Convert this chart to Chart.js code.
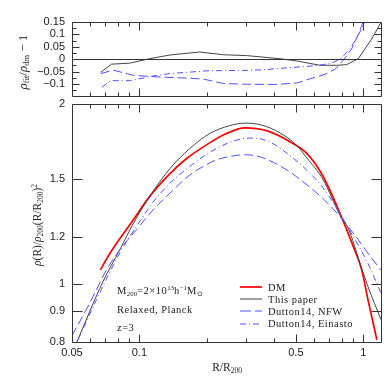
<!DOCTYPE html>
<html>
<head>
<meta charset="utf-8">
<script src="https://cdn.jsdelivr.net/npm/chart.js@4.4.1/dist/chart.umd.min.js"></script>
<style>
  html, body { margin: 0; padding: 0; background: #fff; }
  #wrap { position: relative; width: 390px; height: 390px; overflow: hidden;
          font-family: "Liberation Serif", serif; color: #222; }
  canvas { position: absolute; left: 0; }
  #topChart { top: 0; }
  #botChart { top: 90px; }
  .lbl { position: absolute; white-space: nowrap; line-height: 1; }
  .rot { transform: translate(-50%, -50%) rotate(-90deg); }
  .ctr { transform: translate(-50%, -50%); }
  .note { letter-spacing: 0.5px; font-size: 10.5px; }
  sub { font-size: 65%; vertical-align: -0.3em; line-height: 0; letter-spacing: 0; }
  sup { font-size: 65%; vertical-align: 0.55em; line-height: 0; letter-spacing: 0; }
  .leg { position: absolute; left: 240px; font-size: 10.5px; letter-spacing: 0.5px; }
  .leg div { height: 12.2px; display: flex; align-items: center; }
  .leg svg { margin-right: 6px; }
</style>
</head>
<body>
<div id="wrap">
  <canvas id="topChart" width="390" height="110"></canvas>
  <canvas id="botChart" width="390" height="300"></canvas>

  <div class="lbl rot" style="left:22px; top:62px; font-size:13px;"><i>ρ</i><sub>fit</sub>/<i>ρ</i><sub>dm</sub> − 1</div>
  <div class="lbl rot" style="left:38px; top:225px; font-size:11.5px;"><i>ρ</i>(R)/<i>ρ</i><sub>200</sub>(R/R<sub>200</sub>)<sup>2</sup></div>
  <div class="lbl ctr" style="left:227px; top:368px; font-size:11.5px;">R/R<sub>200</sub></div>

  <div class="lbl note" style="left:117px; top:286px;">M<sub>200</sub>=2×10<sup>13</sup>h<sup>−1</sup>M<sub>⊙</sub></div>
  <div class="lbl note" style="left:117px; top:305px;">Relaxed, Planck</div>
  <div class="lbl note" style="left:117px; top:323px;">z=3</div>

  <div class="leg" style="top:281px;">
    <div><svg width="22" height="4"><line x1="0" y1="2" x2="22" y2="2" stroke="#ff0000" stroke-width="1.7"/></svg>DM</div>
    <div><svg width="22" height="4"><line x1="0" y1="2" x2="22" y2="2" stroke="#444" stroke-width="1"/></svg>This paper</div>
    <div><svg width="22" height="4"><line x1="0" y1="2" x2="22" y2="2" stroke="#5050ff" stroke-width="1" stroke-dasharray="11,4"/></svg>Dutton14, NFW</div>
    <div><svg width="22" height="4"><line x1="0" y1="2" x2="22" y2="2" stroke="#5050ff" stroke-width="1" stroke-dasharray="6,3,1,3"/></svg>Dutton14, Einasto</div>
  </div>
</div>

<script>
// ---- bottom panel: rho(R) / rho200 (R/R200)^2 ----
var dmR  = [0.067, 0.074, 0.094, 0.111, 0.137, 0.162, 0.2, 0.241, 0.296, 0.37, 0.47, 0.558, 0.662, 0.786, 0.902, 0.984, 1.05, 1.15];
var dmV  = [1.056, 1.127, 1.281, 1.40, 1.53, 1.62, 1.71, 1.78, 1.825, 1.805, 1.73, 1.655, 1.513, 1.314, 1.156, 1.056, 0.941, 0.807];

var fitR = [0.0526, 0.06, 0.0688, 0.0817, 0.0937, 0.111, 0.137, 0.168, 0.206, 0.253, 0.296, 0.35, 0.424, 0.5, 0.56, 0.662, 0.786, 0.86, 0.966, 1.05, 1.2];
var fitV = [0.80, 0.90, 1.01, 1.141, 1.26, 1.40, 1.56, 1.685, 1.785, 1.84, 1.858, 1.845, 1.79, 1.71, 1.625, 1.494, 1.305, 1.235, 1.085, 0.99, 0.872];

var nfwR = [0.05, 0.06, 0.0713, 0.083, 0.097, 0.115, 0.137, 0.168, 0.193, 0.221, 0.253, 0.296, 0.35, 0.4, 0.47, 0.56, 0.66, 0.79, 0.95, 1.08, 1.2];
var nfwV = [0.82, 0.929, 1.056, 1.15, 1.232, 1.33, 1.419, 1.522, 1.573, 1.613, 1.634, 1.645, 1.63, 1.595, 1.54, 1.465, 1.39, 1.295, 1.186, 1.11, 1.056];

var einR = [0.0532, 0.0643, 0.0817, 0.097, 0.115, 0.137, 0.168, 0.193, 0.221, 0.253, 0.306, 0.35, 0.403, 0.47, 0.56, 0.66, 0.76, 0.88, 1.04, 1.2];
var einV = [0.807, 0.941, 1.127, 1.248, 1.37, 1.475, 1.573, 1.634, 1.685, 1.725, 1.754, 1.748, 1.71, 1.64, 1.55, 1.45, 1.34, 1.22, 1.09, 0.966];

// ---- top panel: rho_fit / rho_dm - 1 ----
var resFitR = [0.0672, 0.075, 0.0905, 0.111, 0.137, 0.186, 0.237, 0.301, 0.424, 0.504, 0.64, 0.76, 0.843, 0.95, 1.089, 1.21];
var resFitV = [-0.053, -0.02, -0.016, 0.002, 0.017, 0.029, 0.018, 0.0146, 0.002, -0.007, -0.0245, -0.0245, -0.022, 0.002, 0.081, 0.154];

var resNfwR = [0.0672, 0.0764, 0.094, 0.119, 0.168, 0.193, 0.237, 0.3, 0.4, 0.454, 0.512, 0.56, 0.67, 0.75, 0.814, 0.886, 0.95, 1.0];
var resNfwV = [-0.058, -0.044, -0.065, -0.071, -0.077, -0.08, -0.098, -0.101, -0.102, -0.099, -0.095, -0.083, -0.062, -0.04, -0.005, 0.04, 0.1, 0.152];

var resEinR = [0.068, 0.0745, 0.0905, 0.115, 0.137, 0.168, 0.2, 0.237, 0.3, 0.35, 0.47, 0.56, 0.662, 0.74, 0.8, 0.87, 0.94, 1.02];
var resEinV = [-0.113, -0.0865, -0.0865, -0.068, -0.058, -0.052, -0.047, -0.046, -0.045, -0.043, -0.034, -0.029, -0.022, -0.012, 0.005, 0.04, 0.09, 0.15];

// ---- axes ----
var xMin = 0.05, xMax = 1.2;
var xLabels = [0.05, 0.1, 0.5, 1];
var xMajor = [0.1, 0.5, 1];
var xMinor = [0.06, 0.07, 0.08, 0.09, 0.2, 0.3, 0.4, 0.6, 0.7, 0.8, 0.9];
var topLabels = [-0.1, -0.05, 0, 0.05, 0.1, 0.15];
var topMinor = [-0.125, -0.075, -0.025, 0.025, 0.075, 0.125];
var botLabels = [0.8, 0.9, 1, 1.2, 1.5, 2];

var red = '#ff0000', grey = '#444', blue = '#5050ff';

function pts(rs, vs) {
  return rs.map(function (r, i) { return { x: r, y: vs[i] }; });
}

function fmt(v) {
  return v < 0 ? '\u2212' + Math.abs(v) : String(v);
}

// inward tick marks + frame, placed with the chart's own scales
function framePlugin(cfg) {
  return {
    id: 'frame',
    afterDatasetsDraw: function (chart) {
      var ctx = chart.ctx, a = chart.chartArea, x = chart.scales.x, y = chart.scales.y;
      var L = Math.round(a.left) + 0.5, R = Math.round(a.right) + 0.5;
      var T = Math.round(a.top) + 0.5, B = Math.round(a.bottom) + 0.5;
      ctx.save();
      ctx.strokeStyle = '#333';
      ctx.lineWidth = 1;
      ctx.beginPath();
      [[xMajor, 8], [xMinor, 4]].forEach(function (set) {
        set[0].forEach(function (v) {
          var px = Math.round(x.getPixelForValue(v)) + 0.5;
          ctx.moveTo(px, T); ctx.lineTo(px, T + set[1]);
          ctx.moveTo(px, B); ctx.lineTo(px, B - set[1]);
        });
      });
      [[cfg.yMajor, cfg.yLen[0]], [cfg.yMinor, cfg.yLen[1]]].forEach(function (set) {
        set[0].forEach(function (v) {
          var py = Math.round(y.getPixelForValue(v)) + 0.5;
          ctx.moveTo(L, py); ctx.lineTo(L + set[1], py);
          ctx.moveTo(R, py); ctx.lineTo(R - set[1], py);
        });
      });
      if (cfg.zero) {
        var pz = Math.round(y.getPixelForValue(0)) + 0.5;
        ctx.moveTo(L, pz); ctx.lineTo(R, pz);
      }
      ctx.rect(L, T, R - L, B - T);
      ctx.stroke();
      ctx.restore();
    }
  };
}

var tickFont = { family: 'Liberation Sans', size: 11 };

// top panel
new Chart(document.getElementById('topChart').getContext('2d'), {
  type: 'line',
  data: {
    datasets: [
      { data: pts(resEinR, resEinV), borderColor: blue, borderWidth: 1, borderDash: [6, 3, 1, 3] },
      { data: pts(resNfwR, resNfwV), borderColor: blue, borderWidth: 1, borderDash: [9, 4] },
      { data: pts(resFitR, resFitV), borderColor: grey, borderWidth: 1 }
    ]
  },
  options: {
    responsive: false,
    animation: false,
    devicePixelRatio: 1,
    layout: { padding: { left: 0, right: 9, top: 22, bottom: 6 } },
    elements: { point: { radius: 0 }, line: { tension: 0, fill: false } },
    datasets: { line: { clip: 0 } },
    plugins: { legend: { display: false }, tooltip: { enabled: false } },
    scales: {
      x: { type: 'logarithmic', min: xMin, max: xMax, display: false },
      y: {
        type: 'linear', min: -0.15, max: 0.15,
        grid: { display: false, drawTicks: false },
        border: { display: false },
        afterBuildTicks: function (s) { s.ticks = topLabels.map(function (v) { return { value: v }; }); },
        afterFit: function (s) { s.width = 72; },
        ticks: { font: tickFont, color: '#222', padding: 7, autoSkip: false, callback: fmt }
      }
    }
  },
  plugins: [framePlugin({ yMajor: topLabels, yMinor: topMinor, yLen: [7, 4], zero: true })]
});

// bottom panel
new Chart(document.getElementById('botChart').getContext('2d'), {
  type: 'line',
  data: {
    datasets: [
      { data: pts(einR, einV), borderColor: blue, borderWidth: 1, borderDash: [6, 3, 1, 3] },
      { data: pts(nfwR, nfwV), borderColor: blue, borderWidth: 1, borderDash: [9, 4] },
      { data: pts(fitR, fitV), borderColor: grey, borderWidth: 1 },
      { data: pts(dmR, dmV), borderColor: red, borderWidth: 1.7 }
    ]
  },
  options: {
    responsive: false,
    animation: false,
    devicePixelRatio: 1,
    layout: { padding: { left: 0, right: 9, top: 14, bottom: 26 } },
    elements: { point: { radius: 0 }, line: { cubicInterpolationMode: 'monotone', fill: false } },
    datasets: { line: { clip: 0 } },
    plugins: { legend: { display: false }, tooltip: { enabled: false } },
    scales: {
      x: {
        type: 'logarithmic', min: xMin, max: xMax,
        grid: { display: false, drawTicks: false },
        border: { display: false },
        afterBuildTicks: function (s) { s.ticks = xLabels.map(function (v) { return { value: v }; }); },
        afterFit: function (s) { s.height = 22; },
        ticks: { font: tickFont, color: '#222', padding: 4, autoSkip: false, maxRotation: 0, callback: fmt }
      },
      y: {
        type: 'logarithmic', min: 0.8, max: 2,
        grid: { display: false, drawTicks: false },
        border: { display: false },
        afterBuildTicks: function (s) { s.ticks = botLabels.map(function (v) { return { value: v }; }); },
        afterFit: function (s) { s.width = 72; },
        ticks: { font: tickFont, color: '#222', padding: 7, autoSkip: false, callback: fmt }
      }
    }
  },
  plugins: [framePlugin({ yMajor: botLabels, yMinor: [], yLen: [10, 0], zero: false })]
});
</script>
</body>
</html>
